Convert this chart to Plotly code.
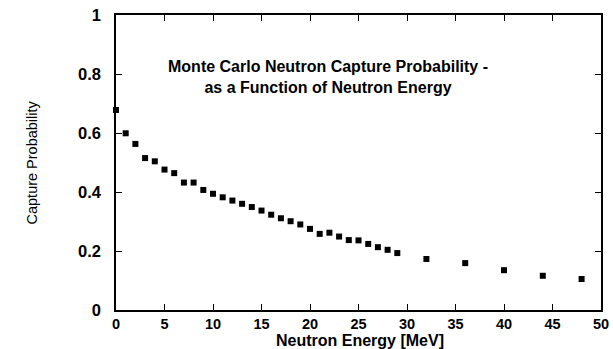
import plotly.graph_objects as go

energy_mev = [0, 1, 2, 3, 4, 5, 6, 7, 8, 9, 10, 11, 12, 13, 14, 15, 16, 17, 18, 19,
              20, 21, 22, 23, 24, 25, 26, 27, 28, 29, 32, 36, 40, 44, 48]
capture_prob = [0.678, 0.599, 0.563, 0.515, 0.504, 0.476, 0.464, 0.432, 0.432, 0.407,
                0.394, 0.382, 0.371, 0.360, 0.349, 0.337, 0.323, 0.311, 0.301, 0.290,
                0.275, 0.258, 0.262, 0.249, 0.237, 0.236, 0.224, 0.213, 0.204, 0.193,
                0.173, 0.159, 0.135, 0.116, 0.105]

x_ticks = [0, 5, 10, 15, 20, 25, 30, 35, 40, 45, 50]
y_ticks = [0, 0.2, 0.4, 0.6, 0.8, 1]
y_tick_text = ["0", "0.2", "0.4", "0.6", "0.8", "1"]

font_family = "Liberation Sans, Arial, sans-serif"

fig = go.Figure()
fig.add_trace(go.Scatter(
    x=energy_mev, y=capture_prob, mode="markers",
    marker=dict(symbol="square", size=6, color="black"),
    cliponaxis=False, showlegend=False,
))

axis_common = dict(
    showgrid=False, zeroline=False, showline=True, linecolor="black", linewidth=1.5,
    mirror="ticks", ticks="inside", ticklen=6, tickwidth=1, tickcolor="black",
    automargin=False,
)

fig.update_layout(
    width=613, height=349,
    margin=dict(l=116, r=12, t=15, b=39),
    paper_bgcolor="white", plot_bgcolor="white",
    xaxis=dict(range=[0, 50], tickvals=x_ticks, ticklabelstandoff=0,
               tickfont=dict(family=font_family, size=14.5, color="black", weight="bold"),
               **axis_common),
    yaxis=dict(range=[0, 1], tickvals=y_ticks, ticktext=y_tick_text, ticklabelstandoff=10,
               tickfont=dict(family=font_family, size=16.5, color="black", weight="bold"),
               **axis_common),
    annotations=[
        # chart heading inside the frame
        dict(x=21.9, y=0.79, xref="x", yref="y", showarrow=False,
             text="Monte Carlo Neutron Capture Probability -<br>as a Function of Neutron Energy",
             align="center",
             font=dict(family=font_family, size=16, color="black", weight="bold")),
        # x-axis title, below the tick labels
        dict(x=25.2, xref="x", y=0, yref="paper", yshift=-40, yanchor="bottom",
             showarrow=False, text="Neutron Energy [MeV]", borderpad=0,
             font=dict(family=font_family, size=16, color="black", weight="bold")),
        # y-axis title
        dict(x=0, xref="paper", xshift=-95, y=0.5, yref="paper", showarrow=False,
             text="Capture Probability", textangle=-90,
             font=dict(family=font_family, size=14.5, color="black")),
    ],
)

fig.write_html("out.html")
